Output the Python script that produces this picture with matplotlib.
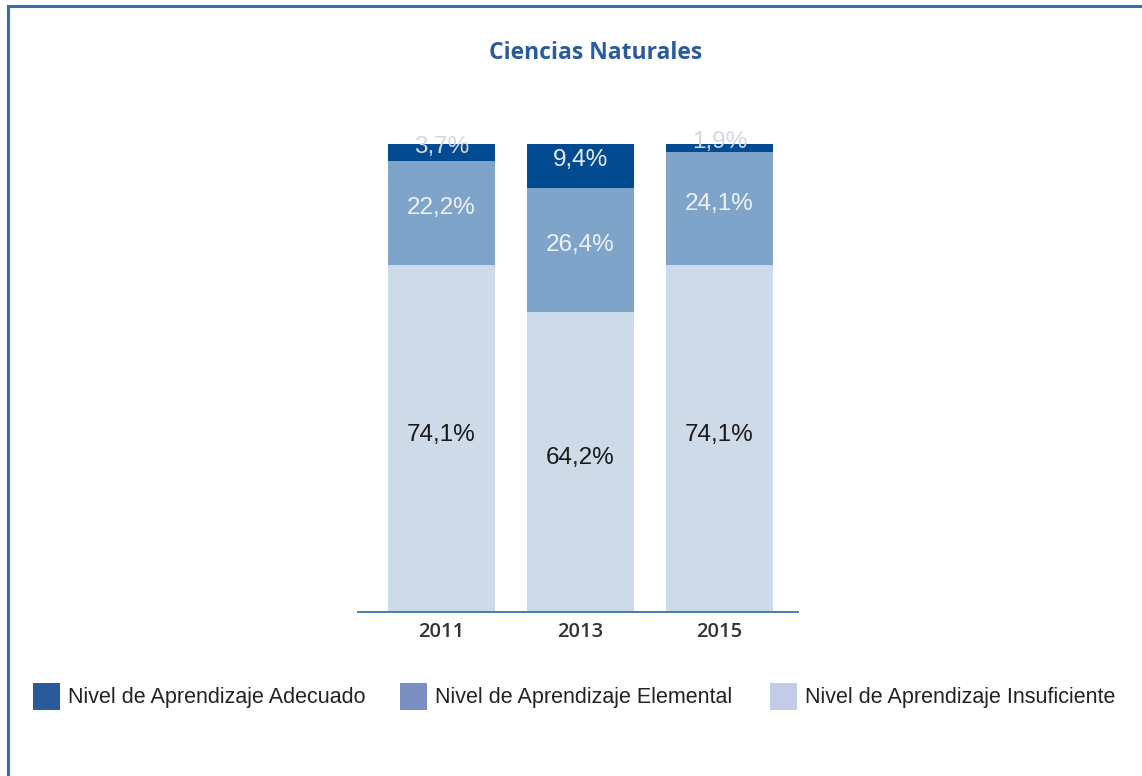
import numpy as np
import matplotlib
matplotlib.use("Agg")
import matplotlib.pyplot as plt
from matplotlib.lines import Line2D
from matplotlib.patches import Rectangle

# data (percent of students)
years = ["2011", "2013", "2015"]
adecuado = [3.7, 9.4, 1.9]
elemental = [22.2, 26.4, 24.1]
insuficiente = [74.1, 64.2, 74.1]
series_names = ["Nivel de Aprendizaje Adecuado",
                "Nivel de Aprendizaje Elemental",
                "Nivel de Aprendizaje Insuficiente"]

W, H = 1142, 776
fig = plt.figure(figsize=(W / 100, H / 100), dpi=100)

# axes placed in pixel terms: spine from x=358..798, y=144..612
ax = fig.add_axes([358 / W, (H - 612) / H, 440 / W, 468 / H])
x = np.arange(len(years))
bw = 0.77

bar_cols = ["#034b91", "#7fa4c9", "#cddae7"]
ins = np.array(insuficiente)
ele = np.array(elemental)
ade = np.array(adecuado)

ax.bar(x, ins, bw, color=bar_cols[2])
ax.bar(x, ele, bw, bottom=ins, color=bar_cols[1])
ax.bar(x, ade, bw, bottom=ins + ele, color=bar_cols[0])

lab_font = dict(family=["Liberation Sans", "DejaVu Sans"], fontsize=17.5,
                ha="center", va="center")


def fmt(v):
    return f"{v:.1f}%".replace(".", ",")


for i in x:
    ax.annotate(fmt(ins[i]), (i, ins[i] / 2), xytext=(0, 2.5),
                textcoords="offset points", color="#1a1a1a", **lab_font)
    ax.annotate(fmt(ele[i]), (i, ins[i] + ele[i] / 2), xytext=(0, 3.5),
                textcoords="offset points", color="#eef2f7", **lab_font)
    small = ade[i] < 5
    ax.annotate(fmt(ade[i]), (i, ins[i] + ele[i] + ade[i] / 2),
                xytext=(0, 4 if small else 4.5), textcoords="offset points",
                color="#d4d8de" if small else "#e9edf3", **lab_font)

ax.set_xlim(-83.5 / 139, 2 + 78.5 / 139)
ax.set_ylim(0, 100)
for s in ["top", "left", "right"]:
    ax.spines[s].set_visible(False)
ax.spines["bottom"].set_color("#4a7ab4")
ax.spines["bottom"].set_linewidth(1.4)
ax.set_yticks([])
ax.set_xticks(x)
ax.set_xticklabels(years, family=["Open Sans", "DejaVu Sans"], fontsize=14.5,
                   color="#333333", fontweight="semibold")
ax.tick_params(axis="x", length=0, pad=7)

fig.text(596 / W, 1 - 53 / H, "Ciencias Naturales", ha="center", va="center",
         family=["Open Sans", "DejaVu Sans"], fontsize=16.5, fontweight="bold",
         color="#2b5b9e")

# legend drawn as swatches + labels at fixed pixel spots
leg_cols = ["#2a5a9b", "#7a8ec0", "#c3cbe6"]
leg_x = [33, 400, 770]
for px, c, name in zip(leg_x, leg_cols, series_names):
    fig.add_artist(Rectangle((px / W, 1 - 710 / H), 27 / W, 27 / H,
                             facecolor=c, edgecolor="none",
                             transform=fig.transFigure))
    fig.text((px + 35) / W, 1 - 697 / H, name, ha="left", va="center",
             family=["Liberation Sans", "DejaVu Sans"], fontsize=15.5,
             color="#222222")

# frame: left and top border lines
fig.add_artist(Line2D([7.5 / W, 7.5 / W], [0, 1 - 6 / H], color="#3a6ea8",
                      lw=2.2, transform=fig.transFigure))
fig.add_artist(Line2D([7.5 / W, 1], [1 - 6 / H, 1 - 6 / H], color="#3a6ea8",
                      lw=2.2, transform=fig.transFigure))

fig.savefig("out.png", dpi=100)
